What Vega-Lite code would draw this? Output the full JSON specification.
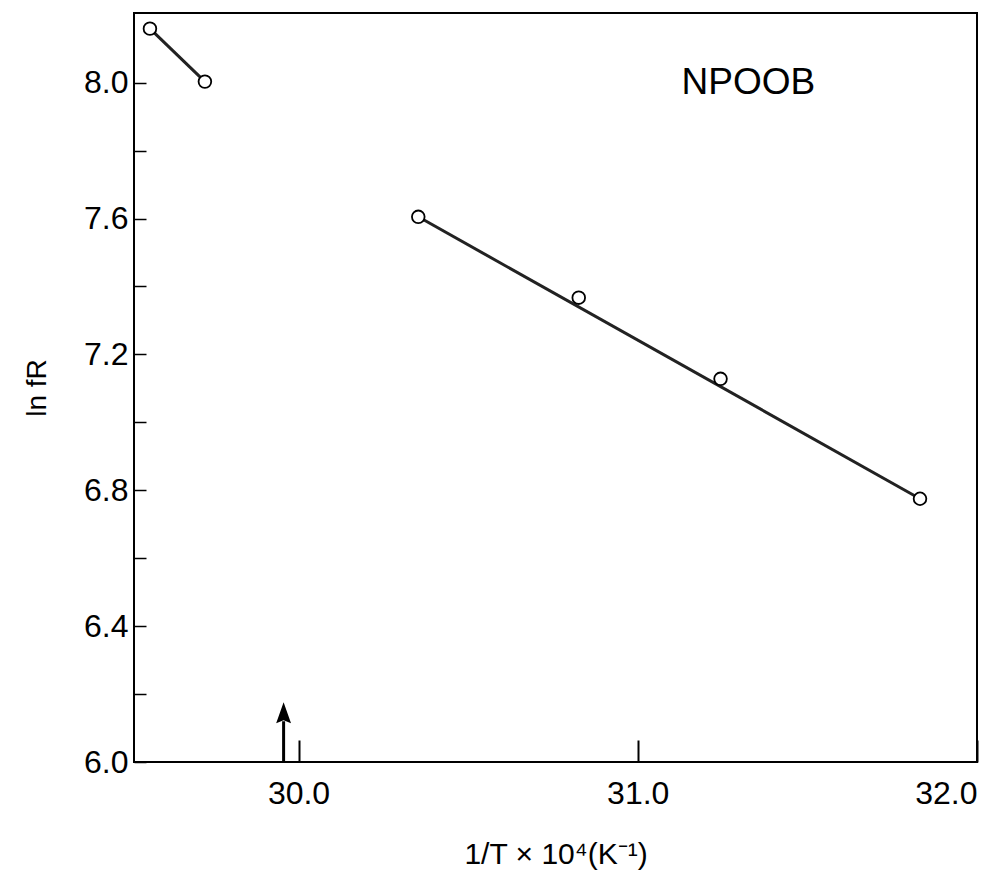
{
  "$schema": "https://vega.github.io/schema/vega-lite/v6.json",
  "width": 843,
  "height": 749,
  "autosize": "none",
  "padding": {"left": 134, "top": 13, "right": 26, "bottom": 131},
  "background": "white",
  "config": {
    "view": {"stroke": "black", "strokeWidth": 2},
    "font": "Liberation Sans"
  },
  "datasets": {
    "points": [
      {"x": 29.562, "y": 8.159},
      {"x": 29.724, "y": 8.003},
      {"x": 30.353, "y": 7.605},
      {"x": 30.826, "y": 7.367},
      {"x": 31.244, "y": 7.128},
      {"x": 31.832, "y": 6.775}
    ],
    "lines": [
      {"seg": "a", "x": 29.562, "y": 8.159},
      {"seg": "a", "x": 29.724, "y": 8.003},
      {"seg": "b", "x": 30.353, "y": 7.605},
      {"seg": "b", "x": 31.832, "y": 6.775}
    ],
    "arrow": [
      {"x": 29.956, "y": 6.0, "y2": 6.12, "tip": 6.145}
    ],
    "label": [
      {"x": 31.326, "y": 8.0, "text": "NPOOB"}
    ]
  },
  "layer": [
    {
      "data": {"name": "lines"},
      "mark": {"type": "line", "color": "#222", "strokeWidth": 3},
      "encoding": {
        "x": {
          "field": "x", "type": "quantitative",
          "scale": {"domain": [29.515, 32.0], "nice": false, "zero": false},
          "axis": {
            "values": [30, 31, 32],
            "format": ".1f",
            "grid": false,
            "domain": false,
            "tickColor": "black",
            "tickWidth": 2,
            "tickSize": -22,
            "labelFontSize": 32,
            "labelColor": "black",
            "labelPadding": 38,
            "title": "1/T × 10⁴(K⁻¹)",
            "titleFontSize": 30,
            "titleFontWeight": "normal",
            "titleColor": "black",
            "titlePadding": 30
          }
        },
        "y": {
          "field": "y", "type": "quantitative",
          "scale": {"domain": [6.0, 8.205], "nice": false, "zero": false},
          "axis": {
            "values": [6.0, 6.2, 6.4, 6.6, 6.8, 7.0, 7.2, 7.4, 7.6, 7.8, 8.0],
            "labelExpr": "round(datum.value*10) % 4 == 0 ? format(datum.value, '.1f') : ''",
            "grid": false,
            "domain": false,
            "tickColor": "black",
            "tickWidth": 1.5,
            "tickSize": -12,
            "labelFontSize": 32,
            "labelColor": "black",
            "labelPadding": 18,
            "title": "ln fR",
            "titleFontSize": 28,
            "titleFontWeight": "normal",
            "titleColor": "black",
            "titlePadding": 32
          }
        },
        "detail": {"field": "seg"}
      }
    },
    {
      "data": {"name": "points"},
      "mark": {"type": "point", "shape": "circle", "filled": true, "fill": "white", "stroke": "black", "strokeWidth": 1.8, "size": 160, "opacity": 1},
      "encoding": {
        "x": {"field": "x", "type": "quantitative"},
        "y": {"field": "y", "type": "quantitative"}
      }
    },
    {
      "data": {"name": "arrow"},
      "mark": {"type": "rule", "color": "black", "strokeWidth": 3},
      "encoding": {
        "x": {"field": "x", "type": "quantitative"},
        "y": {"field": "y", "type": "quantitative"},
        "y2": {"field": "y2"}
      }
    },
    {
      "data": {"name": "arrow"},
      "mark": {"type": "point", "shape": "M0,-1L0.7,1L0,0.7L-0.7,1Z", "filled": true, "color": "black", "size": 450, "opacity": 1},
      "encoding": {
        "x": {"field": "x", "type": "quantitative"},
        "y": {"field": "tip", "type": "quantitative"}
      }
    },
    {
      "data": {"name": "label"},
      "mark": {"type": "text", "fontSize": 37, "color": "black", "align": "center", "baseline": "middle", "letterSpacing": 5},
      "encoding": {
        "x": {"field": "x", "type": "quantitative"},
        "y": {"field": "y", "type": "quantitative"},
        "text": {"field": "text"}
      }
    }
  ]
}
